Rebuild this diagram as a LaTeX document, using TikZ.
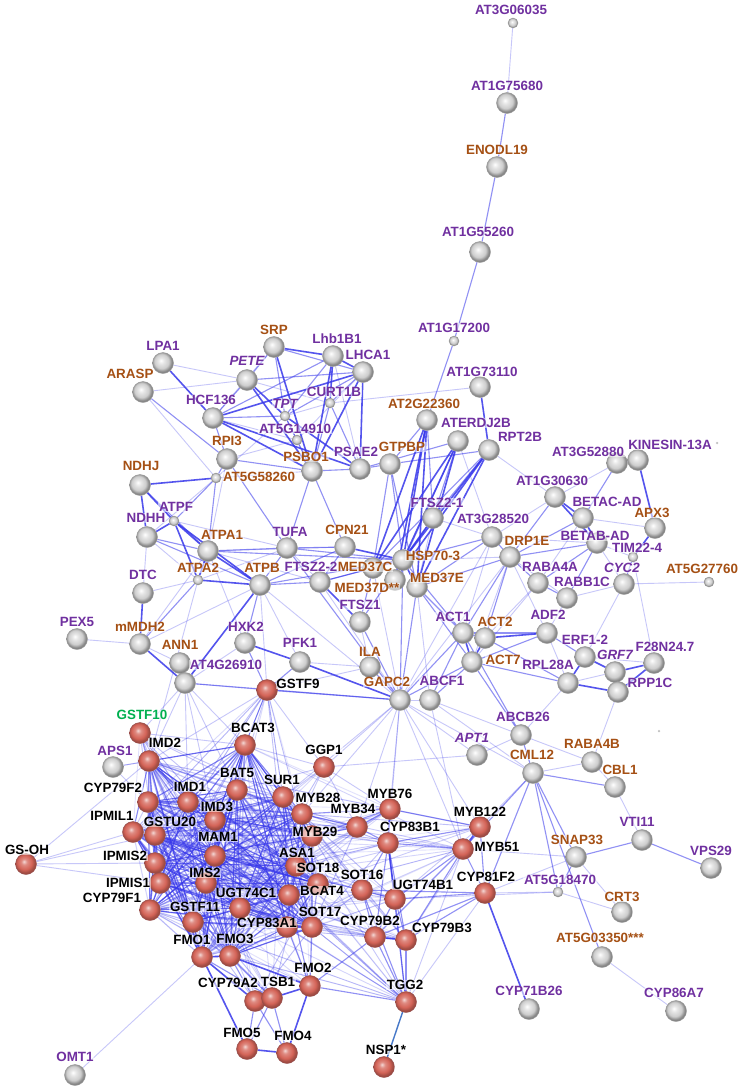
\documentclass[tikz,border=0pt]{standalone}
\usepackage{fontspec}
\setmainfont{Liberation Sans}
\pgfdeclarelayer{bg}
\pgfdeclarelayer{fg}
\pgfsetlayers{bg,main,fg}
\definecolor{ec}{RGB}{55,55,235}
\definecolor{lpc}{RGB}{112,48,160}
\definecolor{lbc}{RGB}{165,80,20}
\definecolor{lgc}{RGB}{0,176,80}
\definecolor{redb}{RGB}{212,100,88}
\definecolor{grayb}{RGB}{205,205,205}
\definecolor{steel}{RGB}{70,120,200}
\pgfdeclareradialshading{rsph}{\pgfqpoint{-5bp}{6bp}}{color(0bp)=(redb!25!white); color(7bp)=(redb!75!white); color(17bp)=(redb); color(24bp)=(redb!75!black); color(50bp)=(redb!70!black)}
\pgfdeclareradialshading{gsph}{\pgfqpoint{-5bp}{6bp}}{color(0bp)=(white); color(7bp)=(grayb!50!white); color(17bp)=(grayb); color(24bp)=(grayb!65!black); color(50bp)=(grayb!60!black)}
\tikzset{
  gb/.style={circle, minimum size=21pt, inner sep=0pt, shading=gsph, draw=gray!80, line width=0.4pt},
  gs/.style={gb, minimum size=10pt},
  rb/.style={gb, shading=rsph, draw=red!40!black!70},
  td/.style={circle, minimum size=2.5pt, inner sep=0pt, fill=gray!50},
  lab/.style={inner sep=0.6pt, fill=white, fill opacity=0.55, text opacity=1, font=\fontsize{13.4}{14}\selectfont\bfseries},
  lp/.style={lab, text=lpc},
  lpi/.style={lp, font=\fontsize{13.4}{14}\selectfont\bfseries\itshape},
  lb/.style={lab, text=lbc},
  lk/.style={lab, text=black},
  lg/.style={lab, text=lgc},
  ew/.style={draw=ec, draw opacity=0.28, line width=0.9pt},
  em/.style={draw=ec, draw opacity=0.55, line width=1.1pt},
  es/.style={draw=ec, draw opacity=0.85, line width=1.6pt},
}
\newcommand{\G}[8]{%
  \node[#4] (#1) at (#2,#3) {};
  \begin{pgfonlayer}{fg}\node[#7] (#1-l) at (#5,#6) {#8};\end{pgfonlayer}}
\newcommand{\E}[2]{\begin{pgfonlayer}{bg}\foreach \a/\b in {#2} {\draw[#1] (\a) -- (\b);}\end{pgfonlayer}}
\begin{document}
\begin{tikzpicture}[x=1pt,y=-1pt]
\begin{pgfonlayer}{bg}
\fill[white] (0,0) rectangle (743,1092);
\end{pgfonlayer}
\useasboundingbox (0,0) rectangle (743,1092);
% top chain
\G{t1}{513}{23}{gs}{511}{10}{lp}{AT3G06035}
\G{t2}{507}{103}{gb}{507}{86}{lp}{AT1G75680}
\G{t3}{497}{167}{gb}{497}{150}{lb}{ENODL19}
\G{t4}{480}{252}{gb}{478}{232}{lp}{AT1G55260}
\G{t5}{454}{341}{gs}{454}{328}{lp}{AT1G17200}
% photosynthesis cluster
\G{lpa1}{163}{363}{gb}{163}{346}{lp}{LPA1}
\G{arasp}{143}{392}{gb}{130}{374}{lb}{ARASP}
\G{pete}{247}{380}{gb}{247}{361}{lpi}{PETE}
\G{hcf}{213}{418}{gb}{211}{400}{lp}{HCF136}
\G{rpi3}{227}{459}{gb}{227}{441}{lb}{RPI3}
\G{srp}{274}{347}{gb}{274}{330}{lb}{SRP}
\G{lhb}{333}{356}{gb}{337}{339}{lp}{Lhb1B1}
\G{lhca}{363}{372}{gb}{368}{355}{lp}{LHCA1}
\G{curt}{330}{403}{gs}{334}{392}{lp}{CURT1B}
\G{tpt}{285}{416}{gs}{285}{404}{lpi}{TPT}
\G{at5g14}{297}{440}{gs}{295}{429}{lp}{AT5G14910}
\G{psbo}{312}{471}{gb}{306}{457}{lb}{PSBO1}
\G{psae}{360}{469}{gb}{356}{452}{lp}{PSAE2}
\G{gtpbp}{390}{464}{gb}{402}{447}{lb}{GTPBP}
\G{at2g22}{427}{420}{gb}{424}{404}{lb}{AT2G22360}
\G{at1g73}{480}{387}{gb}{482}{372}{lp}{AT1G73110}
\G{aterdj}{458}{441}{gb}{476}{423}{lp}{ATERDJ2B}
\G{rpt2b}{489}{450}{gb}{520}{437}{lp}{RPT2B}
\G{ndhj}{140}{485}{gb}{141}{466}{lb}{NDHJ}
\G{at5g58}{216}{478}{gs}{259}{477}{lb}{AT5G58260}
\G{atpf}{174}{521}{gs}{176}{507}{lp}{ATPF}
\G{ndhh}{147}{537}{gb}{146}{518}{lp}{NDHH}
\G{atpa1}{208}{551}{gb}{222}{535}{lb}{ATPA1}
\G{atpa2}{198}{580}{gs}{198}{568}{lb}{ATPA2}
\G{atpb}{260}{585}{gb}{262}{568}{lb}{ATPB}
\G{dtc}{143}{593}{gb}{143}{575}{lp}{DTC}
\G{tufa}{287}{548}{gb}{290}{532}{lp}{TUFA}
\G{cpn21}{345}{547}{gb}{347}{530}{lb}{CPN21}
\G{ftsz22}{320}{582}{gb}{311}{567}{lp}{FTSZ2-2}
\G{med37c}{373}{568}{gb}{365}{567}{lb}{MED37C}
\G{hsp}{403}{560}{gb}{433}{556}{lb}{HSP70-3}
\G{med37d}{395}{580}{gb}{367}{588}{lb}{MED37D**}
\G{med37e}{417}{587}{gb}{437}{578}{lb}{MED37E}
\G{ftsz21}{433}{518}{gb}{437}{503}{lp}{FTSZ2-1}
\G{ftsz1}{360}{622}{gb}{360}{605}{lp}{FTSZ1}
\G{at3g28}{492}{537}{gb}{493}{519}{lp}{AT3G28520}
\G{pex5}{77}{639}{gb}{77}{622}{lp}{PEX5}
\G{mmdh2}{140}{644}{gb}{140}{627}{lb}{mMDH2}
\G{ann1}{180}{663}{gb}{180}{645}{lb}{ANN1}
\G{at4g26}{185}{683}{gb}{226}{665}{lp}{AT4G26910}
\G{hxk2}{245}{643}{gb}{246}{627}{lp}{HXK2}
\G{pfk1}{300}{662}{gb}{300}{643}{lp}{PFK1}
\G{ila}{370}{667}{gb}{370}{652}{lb}{ILA}
\G{gapc2}{400}{700}{gb}{387}{682}{lb}{GAPC2}
\G{abcf1}{430}{700}{gb}{442}{681}{lp}{ABCF1}
% right cluster
\G{at3g52}{617}{463}{gb}{588}{452}{lp}{AT3G52880}
\G{kin}{638}{460}{gb}{670}{445}{lp}{KINESIN-13A}
\node[td] (dot1) at (717,443) {};
\G{at1g30}{555}{497}{gb}{552}{481}{lp}{AT1G30630}
\G{betac}{583}{518}{gb}{607}{502}{lp}{BETAC-AD}
\G{apx3}{655}{528}{gb}{652}{513}{lb}{APX3}
\G{betab}{597}{543}{gb}{595}{536}{lp}{BETAB-AD}
\G{tim22}{633}{557}{gs}{637}{548}{lp}{TIM22-4}
\G{drp1e}{510}{557}{gb}{527}{541}{lb}{DRP1E}
\G{raba4a}{538}{583}{gb}{550}{567}{lp}{RABA4A}
\G{rabb1c}{567}{598}{gb}{582}{582}{lp}{RABB1C}
\G{cyc2}{624}{584}{gb}{622}{568}{lpi}{CYC2}
\G{at5g27}{709}{582}{gs}{702}{569}{lb}{AT5G27760}
\G{act1}{463}{633}{gb}{453}{617}{lp}{ACT1}
\G{act2}{485}{638}{gb}{495}{622}{lb}{ACT2}
\G{act7}{472}{662}{gb}{503}{660}{lb}{ACT7}
\G{adf2}{547}{633}{gb}{548}{615}{lp}{ADF2}
\G{erf12}{585}{657}{gb}{585}{640}{lp}{ERF1-2}
\G{grf7}{615}{672}{gb}{615}{655}{lpi}{GRF7}
\G{f28}{654}{663}{gb}{665}{647}{lp}{F28N24.7}
\G{rpl28a}{568}{683}{gb}{548}{665}{lp}{RPL28A}
\G{rpp1c}{618}{692}{gb}{650}{683}{lp}{RPP1C}
% lower right
\G{apt1}{477}{755}{gb}{472}{738}{lpi}{APT1}
\G{abcb26}{521}{735}{gb}{523}{717}{lp}{ABCB26}
\G{cml12}{533}{773}{gb}{532}{755}{lb}{CML12}
\G{raba4b}{592}{762}{gb}{592}{744}{lb}{RABA4B}
\G{cbl1}{615}{787}{gb}{620}{770}{lb}{CBL1}
\node[td] (dot2) at (659,731) {};
\G{vti11}{642}{840}{gb}{637}{822}{lp}{VTI11}
\G{snap33}{576}{857}{gb}{577}{840}{lb}{SNAP33}
\G{vps29}{711}{868}{gb}{711}{851}{lp}{VPS29}
\G{at5g18}{558}{892}{gs}{560}{880}{lp}{AT5G18470}
\G{crt3}{622}{912}{gb}{622}{897}{lb}{CRT3}
\G{at5g03}{602}{957}{gb}{600}{938}{lb}{AT5G03350***}
\G{cyp71}{529}{1009}{gb}{529}{991}{lp}{CYP71B26}
\G{cyp86}{676}{1011}{gb}{674}{993}{lp}{CYP86A7}
% red cluster
\G{gstf9}{267}{690}{rb}{298}{684}{lk}{GSTF9}
\G{gstf10}{140}{733}{rb}{142}{715}{lg}{GSTF10}
\G{aps1}{113}{767}{gb}{115}{751}{lp}{APS1}
\G{imd2}{149}{761}{rb}{165}{743}{lk}{IMD2}
\G{bcat3}{245}{745}{rb}{253}{728}{lk}{BCAT3}
\G{bat5}{237}{790}{rb}{237}{773}{lk}{BAT5}
\G{ggp1}{324}{767}{rb}{324}{750}{lk}{GGP1}
\G{sur1}{283}{797}{rb}{282}{780}{lk}{SUR1}
\G{myb28}{302}{814}{rb}{318}{798}{lk}{MYB28}
\G{myb76}{390}{809}{rb}{390}{794}{lk}{MYB76}
\G{myb34}{357}{827}{rb}{353}{809}{lk}{MYB34}
\G{cyp83b1}{388}{843}{rb}{410}{827}{lk}{CYP83B1}
\G{myb29}{312}{836}{rb}{315}{832}{lk}{MYB29}
\G{asa1}{296}{866}{rb}{297}{853}{lk}{ASA1}
\G{sot18}{318}{884}{rb}{318}{868}{lk}{SOT18}
\G{bcat4}{289}{895}{rb}{322}{891}{lk}{BCAT4}
\G{ugt74c1}{240}{908}{rb}{246}{893}{lk}{UGT74C1}
\G{cyp83a1}{287}{927}{rb}{267}{923}{lk}{CYP83A1}
\G{sot17}{312}{927}{rb}{320}{912}{lk}{SOT17}
\G{cyp79f2}{148}{802}{rb}{113}{788}{lk}{CYP79F2}
\G{imd1}{188}{802}{rb}{190}{787}{lk}{IMD1}
\G{imd3}{215}{820}{rb}{217}{807}{lk}{IMD3}
\G{ipmil1}{133}{832}{rb}{112}{816}{lk}{IPMIL1}
\G{gstu20}{155}{835}{rb}{170}{822}{lk}{GSTU20}
\G{mam1}{215}{856}{rb}{218}{837}{lk}{MAM1}
\G{gsoh}{26}{864}{rb}{27}{850}{lk}{GS-OH}
\G{ipmis2}{155}{863}{rb}{125}{856}{lk}{IPMIS2}
\G{ims2}{206}{883}{rb}{205}{873}{lk}{IMS2}
\G{ipmis1}{160}{883}{rb}{128}{883}{lk}{IPMIS1}
\G{cyp79f1}{150}{910}{rb}{112}{898}{lk}{CYP79F1}
\G{gstf11}{193}{922}{rb}{195}{907}{lk}{GSTF11}
\G{myb122}{480}{827}{rb}{480}{812}{lk}{MYB122}
\G{myb51}{463}{849}{rb}{497}{847}{lk}{MYB51}
\G{sot16}{362}{890}{rb}{362}{875}{lk}{SOT16}
\G{ugt74b1}{395}{899}{rb}{423}{885}{lk}{UGT74B1}
\G{cyp81f2}{485}{893}{rb}{486}{877}{lk}{CYP81F2}
\G{cyp79b2}{375}{937}{rb}{370}{921}{lk}{CYP79B2}
\G{cyp79b3}{406}{940}{rb}{442}{928}{lk}{CYP79B3}
\G{fmo1}{202}{957}{rb}{192}{940}{lk}{FMO1}
\G{fmo3}{230}{956}{rb}{235}{939}{lk}{FMO3}
\G{fmo2}{310}{986}{rb}{313}{968}{lk}{FMO2}
\G{cyp79a2}{255}{1001}{rb}{228}{983}{lk}{CYP79A2}
\G{tsb1}{272}{998}{rb}{278}{982}{lk}{TSB1}
\G{fmo5}{247}{1049}{rb}{242}{1033}{lk}{FMO5}
\G{fmo4}{287}{1053}{rb}{293}{1036}{lk}{FMO4}
\G{tgg2}{406}{1002}{rb}{405}{985}{lk}{TGG2}
\G{nsp1}{384}{1067}{rb}{386}{1050}{lk}{NSP1*}
\G{omt1}{75}{1075}{gb}{75}{1057}{lp}{OMT1}
% ---------- edges ----------
\E{ew}{t1/t2}
\E{em}{t2/t3,t3/t4,t4/t5,t5/at2g22}
\E{es}{lpa1/hcf,srp/lhb,lhb/lhca,lhca/psae,lhb/psbo,lhca/psbo,lhb/curt,srp/psbo,pete/psbo,hcf/psbo,hcf/psae,hcf/lhca,tpt/psae,pete/tpt,ndhj/ndhh,ndhj/atpf,ndhj/at5g58,ndhh/atpf,atpf/atpa1,atpf/atpb,atpf/atpa2,atpa1/atpb,atpa1/atpa2,atpa2/atpb,dtc/mmdh2,mmdh2/at4g26,at4g26/atpb,hxk2/pfk1,pfk1/gapc2,ftsz22/ftsz1,cpn21/hsp,hsp/med37e,hsp/at2g22,hsp/aterdj,hsp/rpt2b,med37e/at2g22,med37e/aterdj,med37e/rpt2b,med37c/at2g22,med37c/aterdj,med37d/rpt2b,at1g73/rpt2b,med37d/at2g22,hsp/ftsz21}
\E{es}{at1g30/betac,at1g30/betab,betac/betab,kin/apx3,apx3/tim22,act1/act2,act1/act7,act2/act7,act2/adf2,erf12/rpl28a,rpl28a/rpp1c,grf7/rpp1c,rpp1c/f28,grf7/f28,erf12/grf7}
\E{es}{fmo1/fmo3,fmo1/cyp79a2,fmo1/fmo5,fmo5/fmo4,fmo4/fmo2,fmo2/tsb1,cyp79a2/tsb1,fmo3/fmo2,cyp81f2/cyp71,myb51/myb122,myb76/cyp83b1,cyp83b1/ugt74b1,cyp79b2/cyp79b3}
\E{em}{arasp/rpi3,pete/hcf,pete/lhca,pete/srp,srp/tpt,srp/lhca,lhb/tpt,lhca/curt,lhca/tpt,curt/psbo,curt/psae,tpt/at5g14,tpt/psbo,hcf/rpi3,hcf/tpt,hcf/lhb,rpi3/tufa,rpi3/psbo,rpi3/at5g58,psbo/psae,psbo/tufa,psbo/cpn21,psae/gtpbp,ndhj/atpa1,ndhh/atpa1,ndhh/atpb,atpf/at5g58,at5g58/atpa1,atpa1/tufa,atpa1/hsp,atpb/tufa,atpb/cpn21,atpb/ftsz22,atpb/hsp,atpa2/mmdh2,at4g26/gapc2,hxk2/atpb,tufa/cpn21,tufa/hsp,ftsz22/med37c,ftsz22/hsp,ftsz1/ftsz21,ftsz21/at2g22,ftsz21/aterdj,hsp/gtpbp,hsp/at3g28,gtpbp/med37c,gtpbp/med37e,med37d/aterdj,med37c/rpt2b,med37e/gapc2,hsp/gapc2,ftsz1/gapc2,ila/gapc2,at3g28/drp1e,at3g28/med37e,drp1e/med37e,drp1e/act1,drp1e/betac,drp1e/at1g30,med37e/act1,med37e/act7,hsp/act1,gapc2/act1,gapc2/act7,abcf1/act7,abcf1/act1,psae/aterdj,gtpbp/at2g22,tufa/gapc2,pfk1/gstf9,gstf9/gapc2,hxk2/gstf9,med37c/ftsz1,cpn21/ftsz22,gtpbp/rpt2b,ftsz21/rpt2b}
\E{em}{at3g52/betac,at3g52/kin,tim22/cyc2,raba4a/rabb1c,raba4a/betab,rabb1c/betab,drp1e/raba4a,drp1e/betab,act1/adf2,act7/adf2,act2/drp1e,adf2/erf12,act7/rpl28a,act2/rpl28a}
\E{em}{cml12/cbl1,cml12/snap33,cml12/at5g18,cml12/cyp81f2,cml12/at5g03,cml12/myb51,vti11/snap33,vti11/vps29,abcb26/cml12,act7/abcb26,snap33/at5g18,act1/abcb26}
\E{ew}{at5g03/cyp86,cbl1/vti11,raba4b/cbl1,abcb26/raba4b,rpp1c/raba4b,rpl28a/abcb26,snap33/crt3,at5g18/crt3,snap33/myb51,snap33/cyp81f2,at5g18/cyp81f2,at5g18/ugt74b1,cml12/myb122,cml12/raba4b}
\E{em}{myb51/cyp81f2,myb122/cyp81f2,myb122/cyp83b1,myb51/cyp79b2,myb51/cyp79b3,cyp81f2/ugt74b1,cyp81f2/cyp79b3,cyp81f2/cyp79b2,tgg2/cyp79b3,tgg2/cyp79b2,tgg2/fmo2,tgg2/cyp83b1,tgg2/sot16,tgg2/ugt74b1,myb76/myb34,myb34/cyp83b1,myb34/myb28,myb34/myb29,myb76/myb28,myb76/myb29,cyp83b1/sot16,sot16/ugt74b1,cyp79b2/cyp83b1,cyp79b3/cyp83b1,sot16/cyp79b2,ugt74b1/cyp79b2,ugt74b1/cyp79b3,fmo2/cyp79b2,fmo2/sot17,fmo2/cyp83a1,fmo2/bcat4,tsb1/fmo3,tsb1/fmo1,fmo5/tsb1,fmo4/tsb1,fmo4/cyp79a2,cyp79a2/fmo3,fmo5/cyp79a2,myb51/cyp83b1,myb51/ugt74b1,myb122/myb76,cyp81f2/sot16}
\E{ew}{cyp81f2/tgg2,myb51/tgg2,ggp1/apt1,apt1/gapc2,apt1/abcb26,omt1/fmo1,gsoh/ipmil1,gsoh/gstu20,gsoh/ipmis2,gsoh/ipmis1,gsoh/imd2,aps1/imd2,aps1/bcat3,aps1/cyp79f2,gstf10/imd2,gstf10/bcat3,gstf10/imd1,gstf10/at4g26,gapc2/ggp1,gapc2/myb76,gapc2/cyp83b1,gapc2/myb51,gapc2/myb122,gapc2/cml12,gapc2/sur1,gapc2/myb28,gapc2/myb34,abcf1/cml12,abcf1/myb51,abcf1/abcb26,at4g26/imd2,at4g26/bcat3,at4g26/bat5,at4g26/imd1,at4g26/gstf9,at4g26/hxk2,at4g26/imd3,atpb/gstf9,atpb/gapc2,atpb/mmdh2,atpa2/imd2,pex5/mmdh2,dtc/atpa2,dtc/ndhh,arasp/pete,arasp/at5g58,cyc2/at5g27,cyc2/erf12,tim22/f28,cyc2/rabb1c,cyc2/betab,rpt2b/at1g30,at3g28/at1g30,curt/at1g73,mmdh2/atpa1,mmdh2/ann1,ann1/at4g26,hxk2/atpa1,pfk1/atpb,ila/ftsz1,ila/gstf9,ila/pfk1,gstf9/bcat3,gstf9/imd2,gstf9/ggp1,gstf9/sur1,gstf9/bat5,ggp1/bcat3,ggp1/sur1,ggp1/myb28,ggp1/bat5,at5g14/psbo,at5g14/rpi3,at5g14/hcf,tpt/at5g58,pete/curt,lpa1/pete,srp/hcf,lhb/psae,lhca/at5g14,curt/tpt,psbo/at5g58,tufa/atpa2,tufa/ftsz22,atpa1/cpn21,atpa1/ftsz22,ndhh/at5g58,ndhh/atpa2,atpf/tufa,rpi3/atpa1,gapc2/ftsz22,gapc2/med37c,gapc2/at3g28,gapc2/abcf1,gapc2/drp1e,med37e/abcf1,hsp/drp1e,med37e/ftsz21,at3g28/ftsz21,at3g28/aterdj,at3g28/act1,drp1e/act7,drp1e/adf2,drp1e/rabb1c,betac/raba4a,betac/apx3,betab/tim22,betab/at3g28,at1g30/at3g52,rabb1c/adf2,raba4a/act2,adf2/rpl28a,erf12/f28,rpl28a/grf7,act7/raba4a,cyp79b3/myb122,myb76/ggp1,myb34/ggp1,ugt74b1/myb122,tgg2/fmo3,tgg2/cyp83a1,tgg2/sot17}
\begin{pgfonlayer}{bg}
\draw[draw=steel, line width=1.4pt] (tgg2) -- (nsp1);
\end{pgfonlayer}
% dense core of the red cluster
\def\core{imd2,bcat3,bat5,sur1,myb28,myb29,asa1,imd1,imd3,cyp79f2,ipmil1,gstu20,mam1,ipmis2,ims2,ipmis1,cyp79f1,gstf11,ugt74c1,sot18,bcat4,cyp83a1,sot17,fmo1,fmo3}
\def\outer{gstf9,ggp1,myb34,myb76,cyp83b1,sot16,ugt74b1,cyp79b2,cyp79b3,fmo2,cyp79a2,tsb1,gstf10,myb51,myb122,tgg2}
\pgfmathsetseed{7}
\begin{pgfonlayer}{bg}
\foreach \a [count=\i] in \core {
  \foreach \b [count=\j] in \core {
    \ifnum\j>\i
      \pgfmathsetmacro\op{0.2+0.55*rnd}
      \draw[draw=ec, draw opacity=\op, line width=1.1pt] (\a) -- (\b);
    \fi
  }
}
\foreach \a in \outer {
  \foreach \b in \core {
    \pgfmathtruncatemacro\ok{rnd<0.35}
    \ifnum\ok=1
      \pgfmathsetmacro\op{0.1+0.3*rnd}
      \draw[draw=ec, draw opacity=\op, line width=0.9pt] (\a) -- (\b);
    \fi
  }
}
\end{pgfonlayer}
\end{tikzpicture}
\end{document}
